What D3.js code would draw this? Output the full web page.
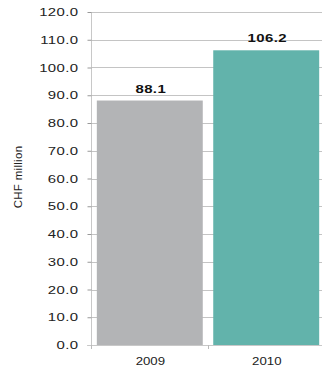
<!DOCTYPE html>
<html>
<head>
<meta charset="utf-8">
<script src="https://cdn.jsdelivr.net/npm/d3@7"></script>
<style>
  html, body { margin: 0; padding: 0; background: #fff; }
  svg { display: block; font-family: "Liberation Sans", Arial, Helvetica, sans-serif; }
</style>
</head>
<body>
<svg id="chart" width="322" height="373"></svg>
<script>
// Revenue per year, CHF million
const categories = ["2009", "2010"];
const values = [88.1, 106.2];
const barColors = ["#b3b4b6", "#62b3ab"];
const yTicks = [0, 10, 20, 30, 40, 50, 60, 70, 80, 90, 100, 110, 120];
const yTitle = "CHF million";

const svg = d3.select("#chart");
const plotLeft = 91, plotRight = 325, plotTop = 12, plotBottom = 345;
const wide = 1.3; // horizontal stretch of the numeric labels

const x = d3.scaleBand().domain(categories).range([plotLeft, plotRight]).paddingInner(0.09).paddingOuter(0.05);
const y = d3.scaleLinear().domain([0, 120]).range([plotBottom, plotTop]);

// horizontal gridlines
svg.append("g").selectAll("line").data(yTicks.slice(1)).join("line")
  .attr("x1", plotLeft).attr("x2", 322)
  .attr("y1", d => Math.round(y(d)) + 0.5).attr("y2", d => Math.round(y(d)) + 0.5)
  .attr("stroke", "#c4c4c4").attr("stroke-width", 1);

// bars
svg.append("g").selectAll("rect").data(values).join("rect")
  .attr("x", (d, i) => x(categories[i]))
  .attr("width", x.bandwidth())
  .attr("y", d => y(d))
  .attr("height", d => plotBottom - y(d))
  .attr("fill", (d, i) => barColors[i]);

// value labels
svg.append("g").selectAll("text").data(values).join("text")
  .attr("transform", (d, i) => `translate(${x(categories[i]) + x.bandwidth() / 2 + 1},${y(d) - 8}) scale(${wide},1)`)
  .attr("text-anchor", "middle")
  .attr("font-size", 11.5).attr("font-weight", "bold").attr("letter-spacing", 0.3).attr("fill", "#111")
  .text(d => d.toFixed(1));

// y axis
const yAxis = svg.append("g").attr("transform", `translate(${plotLeft + 0.5},0)`)
  .call(d3.axisLeft(y).tickValues(yTicks).tickFormat(d3.format(".1f")).tickSize(4));
yAxis.select(".domain").attr("stroke", "#c8c8c8").attr("d", `M0,${plotTop}V${plotBottom}`);
yAxis.selectAll(".tick line").attr("stroke", "#999");
yAxis.selectAll(".tick text")
  .attr("x", 0).attr("transform", `translate(-13,0) scale(${wide},1)`)
  .attr("font-size", 11.5).attr("letter-spacing", 0.3).attr("fill", "#222")
  .attr("font-family", "'Liberation Sans', Arial, sans-serif");

// x axis
const xAxis = svg.append("g").attr("transform", `translate(0,${plotBottom + 0.5})`)
  .call(d3.axisBottom(x).tickSize(0).tickPadding(11));
xAxis.select(".domain").attr("stroke", "#c8c8c8").attr("d", `M${plotLeft - 3},0H322`);
xAxis.selectAll(".tick text")
  .attr("transform", "scale(1.15,1)")
  .attr("x", 0.5)
  .attr("font-size", 11.5).attr("fill", "#222")
  .attr("font-family", "'Liberation Sans', Arial, sans-serif");
// category separators
const seps = [plotLeft, (x(categories[0]) + x.bandwidth() + x(categories[1])) / 2];
svg.append("g").selectAll("line").data(seps).join("line")
  .attr("x1", d => Math.round(d) + 0.5).attr("x2", d => Math.round(d) + 0.5)
  .attr("y1", plotBottom).attr("y2", plotBottom + 4)
  .attr("stroke", "#bbb");

// y axis title
svg.append("text")
  .attr("transform", `translate(22,177) rotate(-90)`)
  .attr("text-anchor", "middle")
  .attr("font-size", 11.5).attr("letter-spacing", 0.3).attr("fill", "#222")
  .text(yTitle);
</script>
</body>
</html>
